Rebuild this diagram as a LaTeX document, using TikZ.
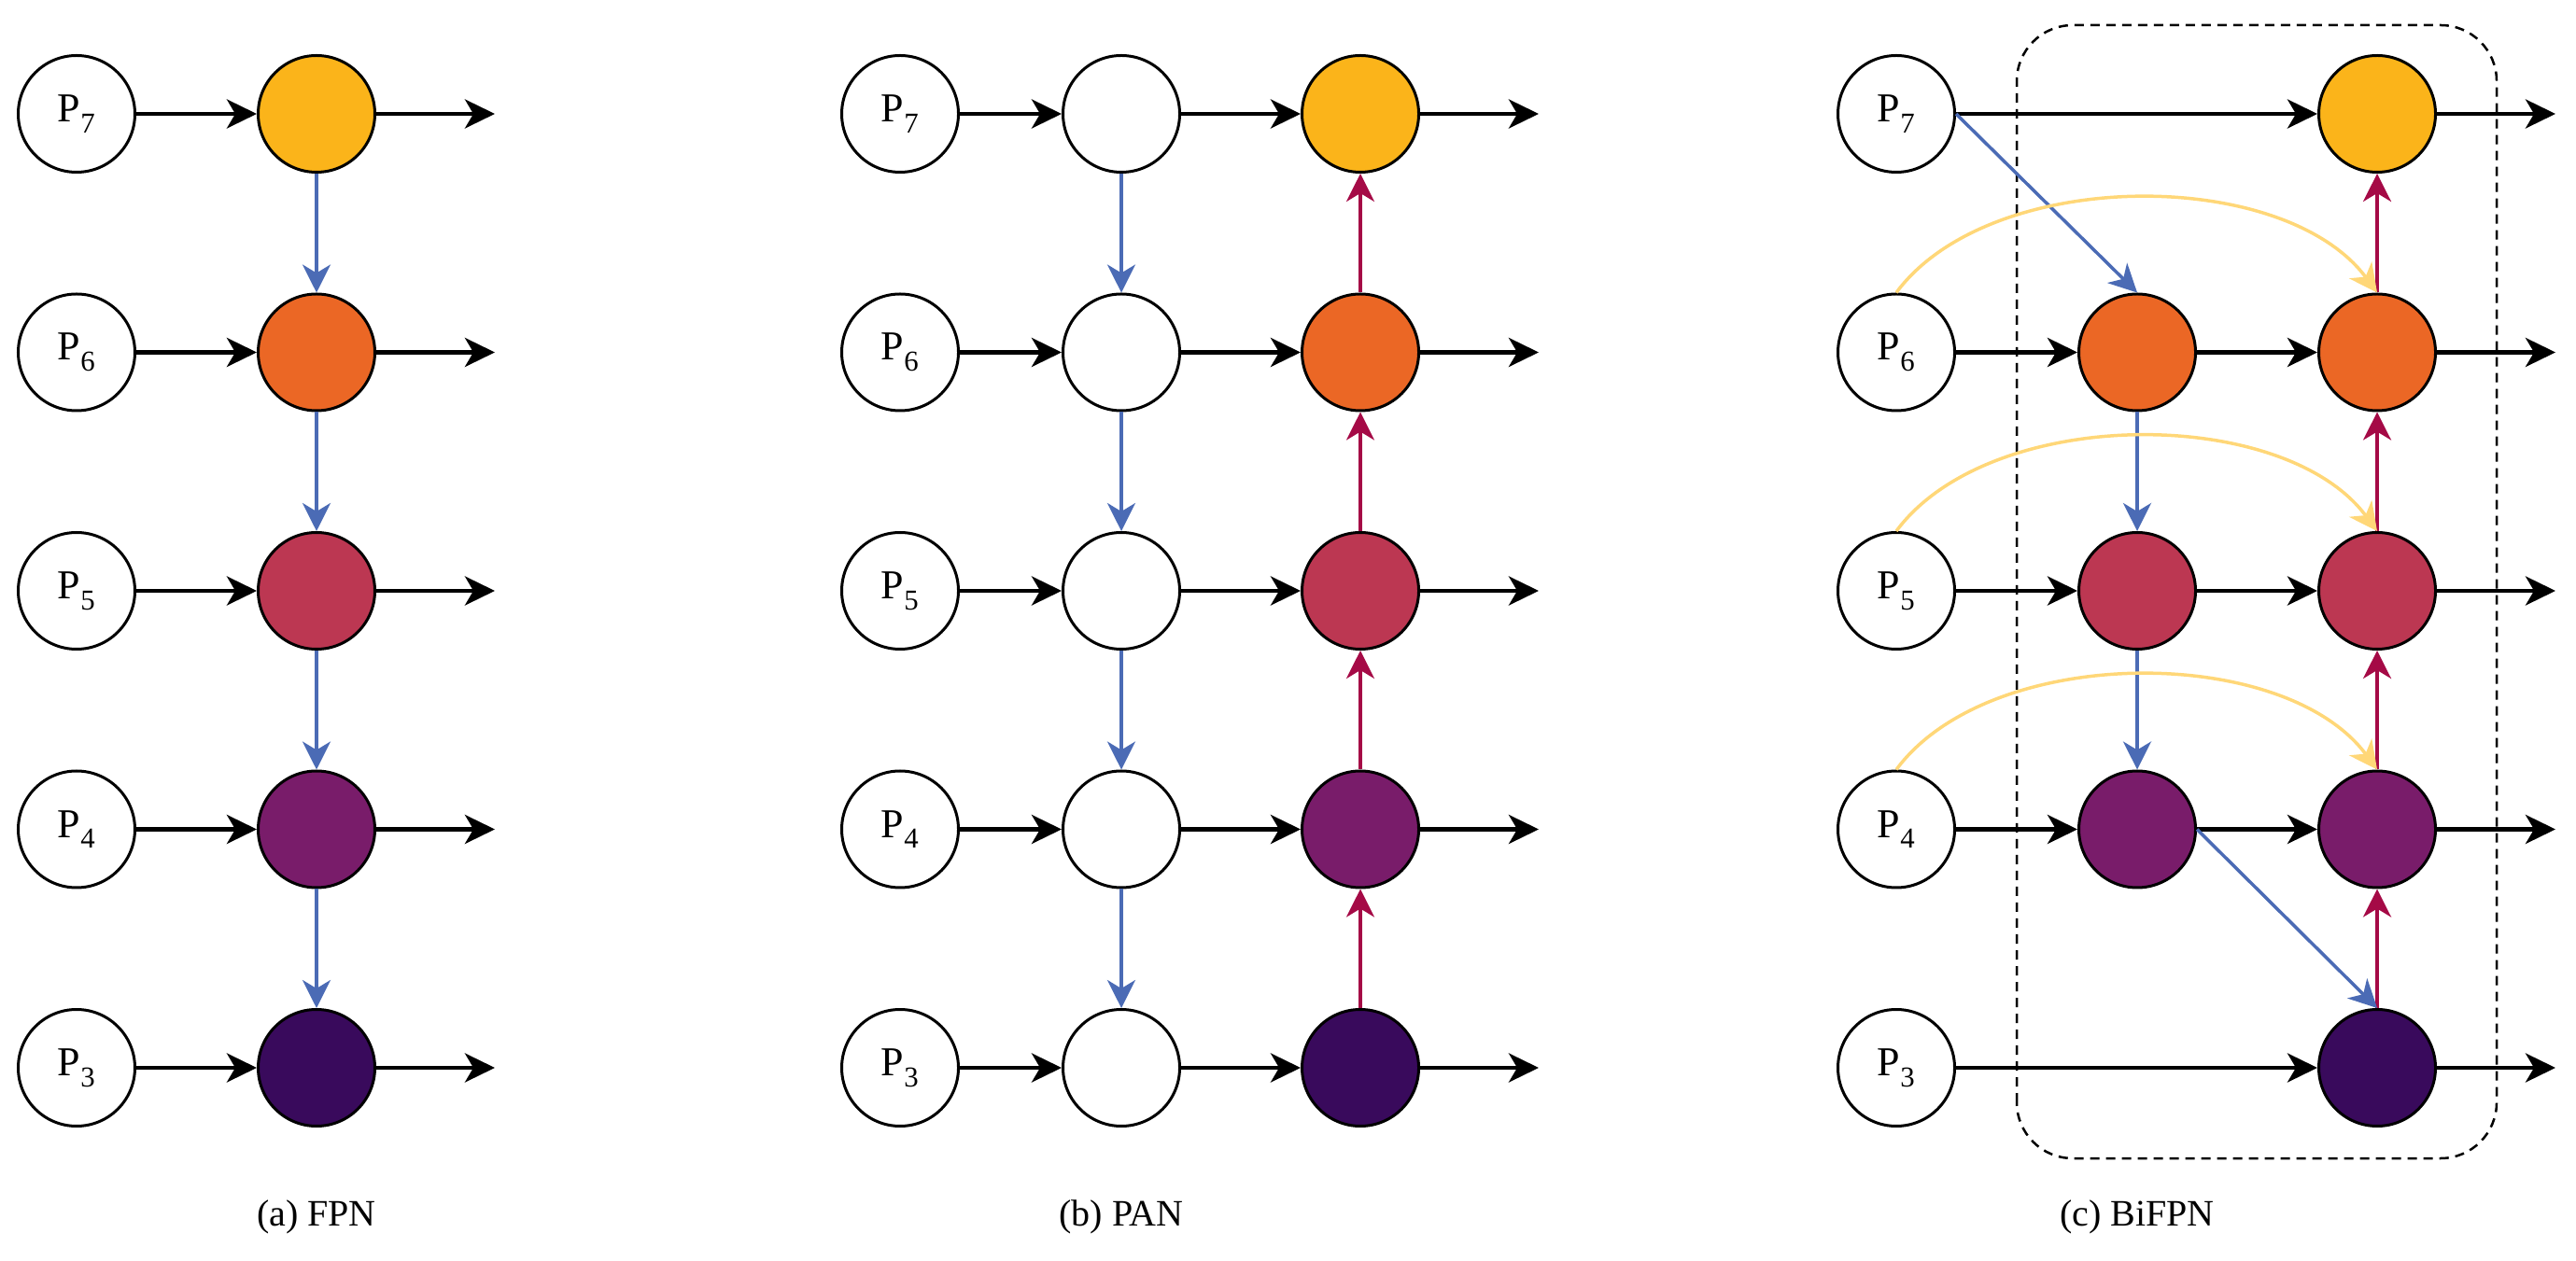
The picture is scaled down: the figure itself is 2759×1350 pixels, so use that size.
\documentclass[tikz,border=0pt]{standalone}
\usepackage{fontspec}
\setmainfont{Liberation Serif}
\usetikzlibrary{arrows.meta}
\definecolor{cY}{RGB}{251,180,26}
\definecolor{cO}{RGB}{235,103,37}
\definecolor{cR}{RGB}{188,55,82}
\definecolor{cP}{RGB}{121,28,106}
\definecolor{cD}{RGB}{57,10,92}
\definecolor{cBlue}{RGB}{75,107,181}
\definecolor{cCrim}{RGB}{165,10,70}
\definecolor{cArc}{RGB}{255,215,120}
\begin{document}
\begin{tikzpicture}[x=1pt,y=1pt,
  pn/.style={circle, draw=black, line width=3pt, minimum size=125pt, inner sep=0pt, fill=white, font=\fontsize{44}{50}\selectfont},
  cn/.style={circle, draw=black, line width=3pt, minimum size=125pt, inner sep=0pt},
  blk/.style={draw=black, line width=4.5pt, -{Stealth[length=32pt,width=31pt,inset=9pt]}},
  bl/.style={draw=cBlue, line width=3.5pt, -{Stealth[length=30pt,width=30pt,inset=9pt]}},
  cr/.style={draw=cCrim, line width=3.5pt, -{Stealth[length=30pt,width=30pt,inset=9pt]}},
  yl/.style={draw=cArc, line width=3.5pt, -{Stealth[length=30pt,width=30pt,inset=9pt]}},
  captext/.style={font=\fontsize{40}{46}\selectfont}]
\useasboundingbox (0,0) rectangle (2759,1350);
% BiFPN dashed box
\draw[line width=2.5pt, dash pattern=on 10pt off 7pt, rounded corners=60pt] (2160,109) rectangle (2674,1323);
% nodes
\foreach \k/\c in {7/cY,6/cO,5/cR,4/cP,3/cD}{
  \pgfmathsetmacro\yy{206+(\k-3)*255.5}
  % FPN
  \node[pn] (aP\k) at (82,\yy) {P\textsubscript{\k}};
  \node[cn, fill=\c] (aF\k) at (339,\yy) {};
  \coordinate (aO\k) at (530,\yy);
  % PAN
  \node[pn] (bP\k) at (964,\yy) {P\textsubscript{\k}};
  \node[cn, fill=white] (bW\k) at (1201,\yy) {};
  \node[cn, fill=\c] (bC\k) at (1457,\yy) {};
  \coordinate (bO\k) at (1648,\yy);
  % BiFPN
  \node[pn] (cP\k) at (2031,\yy) {P\textsubscript{\k}};
  \node[cn, fill=\c] (cR\k) at (2546,\yy) {};
  \coordinate (cO\k) at (2737,\yy);
}
\foreach \k/\c in {6/cO,5/cR,4/cP}{
  \pgfmathsetmacro\yy{206+(\k-3)*255.5}
  \node[cn, fill=\c] (cM\k) at (2289,\yy) {};
}
% horizontal arrows
\foreach \k in {7,6,5,4,3}{
  \draw[blk] (aP\k) -- (aF\k);
  \draw[blk] (aF\k) -- (aO\k);
  \draw[blk] (bP\k) -- (bW\k);
  \draw[blk] (bW\k) -- (bC\k);
  \draw[blk] (bC\k) -- (bO\k);
  \draw[blk] (cR\k) -- (cO\k);
}
\draw[blk] (cP7) -- (cR7);
\draw[blk] (cP3) -- (cR3);
\foreach \k in {6,5,4}{
  \draw[blk] (cP\k) -- (cM\k);
  \draw[blk] (cM\k) -- (cR\k);
}
% vertical arrows
\foreach \a/\b in {7/6,6/5,5/4,4/3}{
  \draw[bl] (aF\a) -- (aF\b);
  \draw[bl] (bW\a) -- (bW\b);
  \draw[cr] (bC\b) -- (bC\a);
  \draw[cr] (cR\b) -- (cR\a);
}
\draw[bl] (cM6) -- (cM5);
\draw[bl] (cM5) -- (cM4);
\draw[bl] (cP7.east) -- (cM6.north);
\draw[bl] (cM4.east) -- (cR3.north);
% skip arcs
\foreach \k in {6,5,4}{
  \draw[yl] (cP\k.north) .. controls +(100,135) and +(-100,135) .. (cR\k.north);
}
% captions
\node[captext] (capa) at (339,46) {(a) FPN};
\node[captext] (capb) at (1201,46) {(b) PAN};
\node[captext] (capc) at (2289,46) {(c) BiFPN};
\end{tikzpicture}
\end{document}
